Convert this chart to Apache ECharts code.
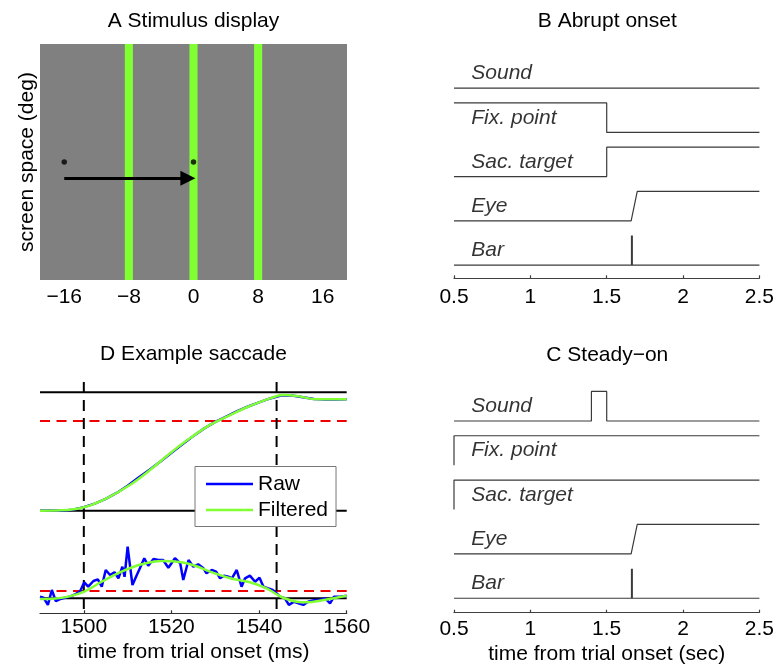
<!DOCTYPE html>
<html><head><meta charset="utf-8">
<script src="https://cdn.jsdelivr.net/npm/echarts@6/dist/echarts.min.js"></script>
<style>html,body{margin:0;padding:0;background:#fff}#c{width:777px;height:668px}</style>
</head><body><div id="c"></div>
<script>
// ---------- Panel A: stimulus display ----------
const stimBarCenters = [-8, 0, 8];
const stimBarWidth = 1;
const fixDots = [[-16, 0], [0, 0]];
const saccadeArrow = [[-16, -2], [-0.7, -2]];
const aTicks = [-16, -8, 0, 8, 16];

// ---------- Panels B / C: event timelines ----------
const rowNames = ['Sound', 'Fix. point', 'Sac. target', 'Eye', 'Bar'];
const soundT_B = [0.5, 2.5],               soundS_B = [0, 0];
const fixT_B   = [0.5, 1.5, 1.5, 2.5],     fixS_B   = [1, 1, 0, 0];
const sacT_B   = [0.5, 1.5, 1.5, 2.5],     sacS_B   = [0, 0, 1, 1];
const soundT_C = [0.5, 1.4, 1.4, 1.5, 1.5, 2.5], soundS_C = [0, 0, 1, 1, 0, 0];
const fixT_C   = [0.5, 0.5, 2.5],          fixS_C   = [0, 1, 1];
const sacT_C   = [0.5, 0.5, 2.5],          sacS_C   = [0, 1, 1];
const eyeT     = [0.5, 1.66, 1.70, 2.5],   eyeS     = [0, 0, 1, 1];
const barT     = [0.5, 2.5],               barS     = [0, 0];
const barSpikeT = 1.665,                   barSpikeS = [0, 1];

// ---------- Panel D: example saccade ----------
const posFiltT = [1490, 1495, 1500, 1505.2, 1510.5, 1515.1, 1519.7, 1524.2, 1528.8, 1533.4, 1537.9, 1542.5, 1545.5, 1548.6, 1553.2, 1560];
const posFilt  = [0.0, 0.003, 0.029, 0.105, 0.217, 0.344, 0.485, 0.611, 0.724, 0.808, 0.884, 0.949, 0.976, 0.969, 0.941, 0.941];
const posRawT = [1490, 1492.5, 1495, 1497.5, 1500, 1502.5, 1505, 1507.5, 1510, 1512.5, 1515, 1517.5, 1520, 1522.5, 1525, 1527.5, 1530, 1532.5, 1535, 1537.5, 1540, 1542.5, 1545, 1547.5, 1550, 1552.5, 1555, 1557.5, 1560];
const posRaw  = [0.0, 0.002, 0.0, 0.008, 0.03, 0.06, 0.1, 0.15, 0.21, 0.28, 0.345, 0.415, 0.49, 0.56, 0.63, 0.695, 0.75, 0.795, 0.84, 0.88, 0.915, 0.948, 0.972, 0.972, 0.958, 0.944, 0.94, 0.94, 0.942];
const velRawT = [1490.0, 1490.8, 1491.8, 1492.7, 1493.6, 1494.6, 1495.7, 1496.8, 1498.0, 1499.1, 1500.1, 1501.0, 1502.2, 1503.2, 1504.1, 1505.0, 1506.0, 1507.0, 1507.9, 1508.8, 1509.3, 1510.0, 1511.1, 1512.1, 1512.8, 1513.8, 1514.7, 1515.9, 1517.0, 1518.1, 1519.3, 1520.8, 1522.0, 1522.7, 1523.9, 1525.0, 1526.1, 1527.3, 1528.0, 1529.2, 1530.2, 1531.1, 1532.0, 1533.0, 1533.8, 1534.9, 1536.0, 1536.8, 1537.9, 1539.1, 1540.1, 1541.0, 1542.1, 1543.1, 1544.0, 1544.8, 1545.9, 1546.8, 1548.0, 1549.0, 1550.1, 1551.2, 1552.8, 1553.9, 1555.1, 1556.2, 1557.1, 1558.5, 1560.0];
const velRaw  = [0.014, 0.005, -0.056, 0.070, -0.023, -0.006, 0.005, 0.014, 0.034, 0.056, 0.135, 0.098, 0.146, 0.160, 0.098, 0.239, 0.197, 0.220, 0.169, 0.267, 0.182, 0.436, 0.112, 0.197, 0.253, 0.338, 0.275, 0.332, 0.323, 0.323, 0.258, 0.338, 0.296, 0.155, 0.323, 0.267, 0.287, 0.253, 0.211, 0.239, 0.225, 0.169, 0.191, 0.182, 0.169, 0.239, 0.098, 0.169, 0.191, 0.140, 0.174, 0.098, 0.084, 0.070, 0.042, 0.014, 0.0, -0.056, -0.029, -0.042, -0.056, -0.029, -0.014, -0.014, 0.0, -0.042, 0.014, 0.014, 0.022];
const velFiltT = [1490, 1493, 1496.5, 1500.1, 1504.1, 1508.6, 1513.2, 1517.8, 1522.3, 1525.4, 1528.8, 1533.4, 1537.9, 1541.7, 1544.0, 1545.5, 1548.6, 1550.9, 1554.7, 1560];
const velFilt  = [-0.006, -0.003, 0.014, 0.056, 0.140, 0.225, 0.287, 0.315, 0.304, 0.275, 0.225, 0.169, 0.135, 0.084, 0.034, 0.005, -0.029, -0.034, -0.014, 0.022];
const posLevels = [0, 1];
const posThreshold = 0.758;
const velLevels = [0];
const velThreshold = 0.062;
const saccadeOnOff = [1500, 1544];
const dTicks = [1500, 1520, 1540, 1560];

// ---------- layout / style ----------
const FONT = '"Liberation Sans", Arial, Helvetica, sans-serif';
const FS = 21;
const TRACE = '#3a3a3a';
const AXIS = '#404040';
const GREEN = '#80ff33';
const BLUE = '#0000ff';
const rowStep = 1.5;
const labelT = 0.61;
const A_X = [-19, 19], A_Y = [-14.6, 14.6];
const B_Y = [-6.45, 1.5], C_Y = [-6.49, 1.5];
const D_X = [1490, 1560];
const POS_Y = [-0.8666, 1.129], VEL_Y = [-0.1267, 1.869];

const zip = (a, b) => a.map((v, i) => [v, b[i]]);
const series = [];

// Panel A
series.push({
  type: 'custom', xAxisIndex: 0, yAxisIndex: 0, silent: true,
  data: stimBarCenters.map(c => [c, 0]), encode: { x: 0, y: 1 },
  renderItem: (params, api) => {
    const c = api.value(0);
    const p0 = api.coord([c - stimBarWidth / 2, A_Y[1]]);
    const p1 = api.coord([c + stimBarWidth / 2, A_Y[0]]);
    return { type: 'rect', shape: { x: p0[0], y: p0[1], width: p1[0] - p0[0], height: p1[1] - p0[1] }, style: { fill: GREEN } };
  }
});
series.push({ type: 'scatter', xAxisIndex: 0, yAxisIndex: 0, data: fixDots, symbolSize: 5.5, itemStyle: { color: '#000' }, silent: true });
series.push({
  type: 'lines', coordinateSystem: 'cartesian2d', xAxisIndex: 0, yAxisIndex: 0, silent: true,
  data: [{ coords: saccadeArrow }], symbol: ['none', 'triangle'], symbolSize: 15,
  lineStyle: { color: '#000', width: 3, opacity: 1 }, itemStyle: { color: '#000' }
});

// Panels B/C
function timeline(rows, xi, yi) {
  rows.forEach(([t, s], i) => {
    series.push({
      type: 'line', xAxisIndex: xi, yAxisIndex: yi, silent: true, symbol: 'none',
      data: t.map((tt, k) => [tt, -rowStep * i + s[k]]),
      lineStyle: { color: TRACE, width: 1.2 }
    });
  });
  series.push({
    type: 'line', xAxisIndex: xi, yAxisIndex: yi, silent: true, symbol: 'none',
    data: barSpikeS.map(s => [barSpikeT, -rowStep * 4 + s]),
    lineStyle: { color: TRACE, width: 2 }
  });
  series.push({
    type: 'scatter', xAxisIndex: xi, yAxisIndex: yi, silent: true, symbolSize: 1,
    itemStyle: { color: 'transparent' },
    data: rowNames.map((n, i) => [labelT, -rowStep * i + 0.5, n]),
    label: { show: true, position: 'right', distance: 0, formatter: p => p.data[2],
      fontStyle: 'italic', fontSize: FS, fontFamily: FONT, color: '#000' }
  });
}
timeline([[soundT_B, soundS_B], [fixT_B, fixS_B], [sacT_B, sacS_B], [eyeT, eyeS], [barT, barS]], 1, 1);
timeline([[soundT_C, soundS_C], [fixT_C, fixS_C], [sacT_C, sacS_C], [eyeT, eyeS], [barT, barS]], 3, 4);

// Panel D reference lines
posLevels.forEach(v => series.push({ type: 'line', xAxisIndex: 2, yAxisIndex: 2, silent: true, symbol: 'none',
  data: [[D_X[0], v], [D_X[1], v]], lineStyle: { color: '#000', width: 2 } }));
velLevels.forEach(v => series.push({ type: 'line', xAxisIndex: 2, yAxisIndex: 3, silent: true, symbol: 'none',
  data: [[D_X[0], v], [D_X[1], v]], lineStyle: { color: '#000', width: 2 } }));
series.push({ type: 'line', xAxisIndex: 2, yAxisIndex: 2, silent: true, symbol: 'none',
  data: [[D_X[0], posThreshold], [D_X[1], posThreshold]], lineStyle: { color: '#ee0000', width: 2, type: [10, 6.5] } });
series.push({ type: 'line', xAxisIndex: 2, yAxisIndex: 3, silent: true, symbol: 'none',
  data: [[D_X[0], velThreshold], [D_X[1], velThreshold]], lineStyle: { color: '#ee0000', width: 2, type: [10, 6.5] } });
saccadeOnOff.forEach(t => series.push({ type: 'line', xAxisIndex: 2, yAxisIndex: 3, silent: true, symbol: 'none',
  data: [[t, VEL_Y[1]], [t, VEL_Y[0]]], lineStyle: { color: '#000', width: 2, type: [11, 7], dashOffset: -5 } }));

// Panel D traces
series.push({ name: 'Raw', type: 'line', xAxisIndex: 2, yAxisIndex: 2, symbol: 'none', silent: true,
  data: zip(posRawT, posRaw), lineStyle: { color: BLUE, width: 2.5 }, itemStyle: { color: BLUE } });
series.push({ name: 'Filtered', type: 'line', xAxisIndex: 2, yAxisIndex: 2, symbol: 'none', silent: true, smooth: 0.4,
  data: zip(posFiltT, posFilt), lineStyle: { color: GREEN, width: 2.5 }, itemStyle: { color: GREEN } });
series.push({ name: 'Raw', type: 'line', xAxisIndex: 2, yAxisIndex: 3, symbol: 'none', silent: true,
  data: zip(velRawT, velRaw), lineStyle: { color: BLUE, width: 2.5 }, itemStyle: { color: BLUE } });
series.push({ name: 'Filtered', type: 'line', xAxisIndex: 2, yAxisIndex: 3, symbol: 'none', silent: true, smooth: 0.4,
  data: zip(velFiltT, velFilt), lineStyle: { color: GREEN, width: 2.5 }, itemStyle: { color: GREEN } });

const lbl = () => ({ fontSize: FS, fontFamily: FONT, color: '#000' });
const timeAxis = (gi, margin, extra) => Object.assign({
  type: 'value', gridIndex: gi, min: 0.5, max: 2.5, interval: 0.5,
  axisLine: { show: true, onZero: false, lineStyle: { color: AXIS, width: 1.2 } },
  axisTick: { show: true, inside: true, length: 3, lineStyle: { color: AXIS, width: 1.2 } },
  axisLabel: Object.assign({ margin: margin }, lbl()),
  splitLine: { show: false }
}, extra || {});
const titleStyle = () => ({ fontSize: FS, fontWeight: 'normal', color: '#000', fontFamily: FONT });

const option = {
  animation: false,
  backgroundColor: '#fff',
  textStyle: { fontFamily: FONT },
  title: [
    { text: 'A Stimulus display', left: 193.5, top: 11, textAlign: 'center', padding: 0, textStyle: titleStyle() },
    { text: 'B Abrupt onset', left: 607.3, top: 11, textAlign: 'center', padding: 0, textStyle: titleStyle() },
    { text: 'D Example saccade', left: 193.5, top: 344, textAlign: 'center', padding: 0, textStyle: titleStyle() },
    { text: 'C Steady\u2212on', left: 607.3, top: 345, textAlign: 'center', padding: 0, textStyle: titleStyle() }
  ],
  legend: {
    data: ['Raw', 'Filtered'], orient: 'vertical', left: 195, top: 466.5,
    padding: [7, 8, 6, 11], itemGap: 5, itemWidth: 47, itemHeight: 2.5, icon: 'rect',
    backgroundColor: '#fff', borderColor: '#777', borderWidth: 1, borderRadius: 0,
    selectedMode: false, textStyle: lbl()
  },
  grid: [
    { left: 40, top: 44, width: 307, height: 236, show: true, backgroundColor: '#808080', borderWidth: 0 },
    { left: 454, top: 44, width: 306.7, height: 234.3 },
    { left: 40, top: 377, width: 306.7, height: 236.3 },
    { left: 454, top: 376.7, width: 306.7, height: 236 }
  ],
  xAxis: [
    { type: 'value', gridIndex: 0, min: A_X[0], max: A_X[1],
      axisLine: { show: false, onZero: false }, axisTick: { show: false }, splitLine: { show: false },
      axisLabel: Object.assign({ customValues: aTicks, margin: 7, formatter: v => (v < 0 ? '\u2212' + Math.abs(v) : String(v)) }, lbl()) },
    timeAxis(1, 8),
    { type: 'value', gridIndex: 2, min: D_X[0], max: D_X[1],
      axisLine: { show: true, onZero: false, lineStyle: { color: '#303030', width: 1.2 } },
      axisTick: { show: true, inside: true, length: 3, customValues: dTicks, lineStyle: { color: '#303030', width: 1.2 } },
      axisLabel: Object.assign({ customValues: dTicks, margin: 3, formatter: v => String(v) }, lbl()),
      splitLine: { show: false },
      name: 'time from trial onset (ms)', nameLocation: 'middle', nameGap: 28, nameTextStyle: lbl() },
    timeAxis(3, 6, { name: 'time from trial onset (sec)', nameLocation: 'middle', nameGap: 31, nameTextStyle: lbl() })
  ],
  yAxis: [
    { type: 'value', gridIndex: 0, min: A_Y[0], max: A_Y[1],
      axisLine: { show: false, onZero: false }, axisTick: { show: false }, axisLabel: { show: false }, splitLine: { show: false },
      name: 'screen space (deg)', nameLocation: 'middle', nameGap: 2, nameTextStyle: lbl() },
    { type: 'value', gridIndex: 1, min: B_Y[0], max: B_Y[1], show: false },
    { type: 'value', gridIndex: 2, min: POS_Y[0], max: POS_Y[1], show: false },
    { type: 'value', gridIndex: 2, min: VEL_Y[0], max: VEL_Y[1], show: false },
    { type: 'value', gridIndex: 3, min: C_Y[0], max: C_Y[1], show: false }
  ],
  series: series
};
const chart = echarts.init(document.getElementById('c'), null, { renderer: 'canvas' });
chart.setOption(option);
</script></body></html>
